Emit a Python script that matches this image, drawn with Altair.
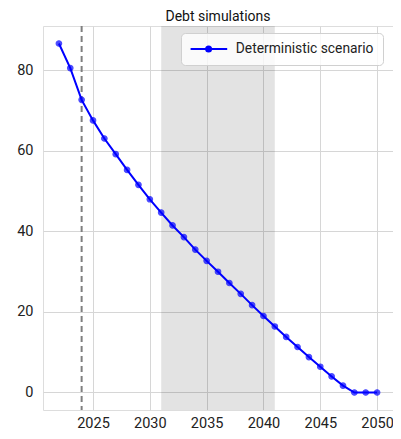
import altair as alt
import pandas as pd

years = list(range(2022, 2051))
debt = [86.7, 80.6, 72.7, 67.6, 63.1, 59.2, 55.3, 51.6, 48.0, 44.7, 41.5, 38.6,
        35.5, 32.7, 30.0, 27.2, 24.5, 21.7, 19.0, 16.4, 13.8, 11.3, 8.8, 6.4,
        4.0, 1.7, 0.0, 0.0, 0.0]
series_name = "Deterministic scenario"
band_start = [2031]
band_end = [2041]
current_year = [2024]

df = pd.DataFrame({"year": years, "debt": debt, "series": [series_name] * len(years)})
band = pd.DataFrame({"start": band_start, "end": band_end})
vline = pd.DataFrame({"year": current_year})

FONT = "Roboto"
xscale = alt.Scale(domain=[2020.6, 2051.4], nice=False, zero=False)
yscale = alt.Scale(domain=[-4.35, 91.05], nice=False, zero=False)

xaxis = alt.Axis(values=[2025, 2030, 2035, 2040, 2045, 2050], format="d", title=None,
                 grid=True, gridColor="#d6d6d6", ticks=False, domain=False,
                 labelPadding=6, labelFontSize=14.5, labelColor="#222222", labelFont=FONT)
yaxis = alt.Axis(values=[0, 20, 40, 60, 80], title=None, grid=True, gridColor="#d6d6d6",
                 ticks=False, domain=False, labelPadding=10, labelFontSize=14.5,
                 labelColor="#222222", labelFont=FONT)

shade = alt.Chart(band).mark_rect(color="black", opacity=0.11).encode(
    x=alt.X("start:Q", scale=xscale, axis=xaxis),
    x2="end:Q",
)

rule = alt.Chart(vline).mark_rule(color="#7f7f7f", strokeDash=[6, 4], strokeWidth=2).encode(
    x=alt.X("year:Q", scale=xscale)
)

legend_symbol = ("M-1.26,0L6.06,0"
                 "M2.84,0A0.5,0.5 0 1,1 1.84,0A0.5,0.5 0 1,1 2.84,0Z")

color = alt.Color("series:N",
                  scale=alt.Scale(domain=[series_name], range=["#0000ff"]),
                  legend=alt.Legend(title=None, orient="none", legendX=138, legendY=7,
                                    symbolType=legend_symbol, symbolSize=100,
                                    symbolStrokeWidth=2, symbolFillColor="#0000ff",
                                    symbolStrokeColor="#0000ff",
                                    labelFontSize=13.8, labelFont=FONT, labelColor="#222222",
                                    fillColor="rgba(255,255,255,0.82)", strokeColor="#d0d0d0",
                                    cornerRadius=4, padding=9, labelOffset=32))

line = alt.Chart(df).mark_line(strokeWidth=2).encode(
    x=alt.X("year:Q", scale=xscale, axis=xaxis),
    y=alt.Y("debt:Q", scale=yscale, axis=yaxis),
    color=color,
)
points = alt.Chart(df).mark_point(filled=True, size=30, opacity=0.7, color="#0000ff",
                                   stroke="#0000ff", strokeWidth=1.2).encode(
    x=alt.X("year:Q", scale=xscale),
    y=alt.Y("debt:Q", scale=yscale),
)

chart = alt.layer(shade, rule, line, points).properties(
    width=350, height=384,
    title=alt.Title("Debt simulations", fontSize=14, fontWeight="normal", font=FONT,
                    color="#111111", offset=1),
    autosize=alt.AutoSizeParams(type="none"),
    padding={"left": 35, "top": 18, "right": 0, "bottom": 21},
).configure_view(stroke="#cccccc", strokeWidth=1).configure(background="white")

chart.save("out.html", embed_options={"renderer": "svg", "actions": False})
